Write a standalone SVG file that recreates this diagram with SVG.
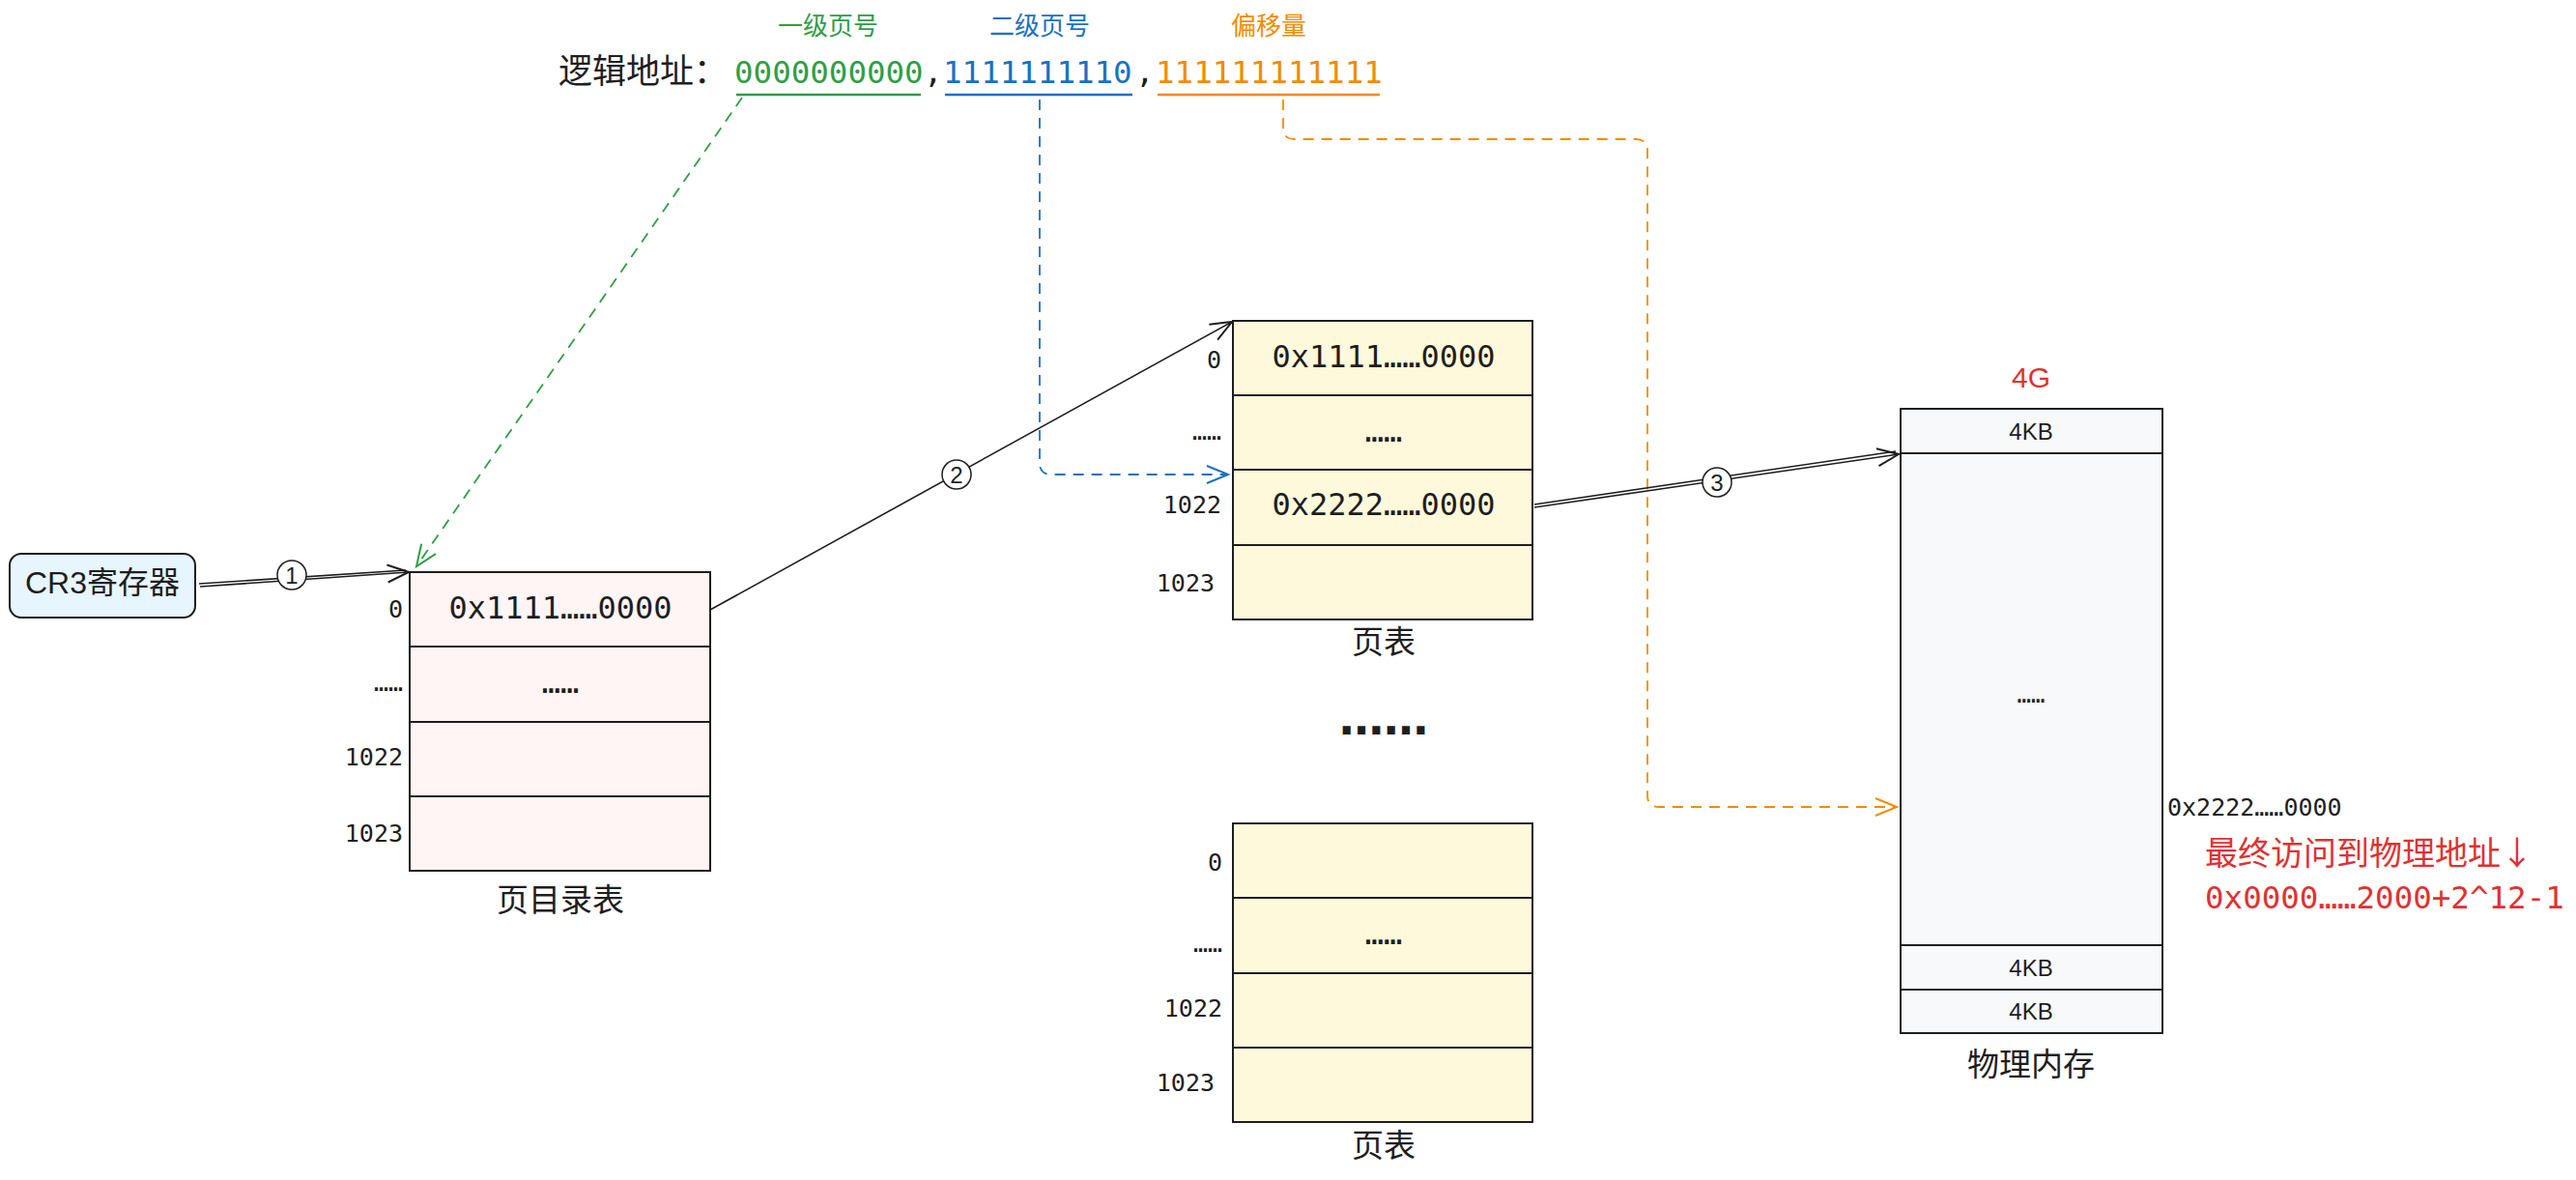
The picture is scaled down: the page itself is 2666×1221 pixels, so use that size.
<svg xmlns="http://www.w3.org/2000/svg" width="2666" height="1221" viewBox="0 0 2666 1221">
<style>
.cjk{font-family:"Noto Sans CJK SC","Noto Sans",sans-serif;}
.mono{font-family:"DejaVu Sans Mono","Liberation Mono","Noto Sans CJK SC",monospace;}
.sans{font-family:"Liberation Sans","Noto Sans CJK SC",sans-serif;}
.box{stroke:#1e1e1e;stroke-width:2;}
.row{stroke:#1e1e1e;stroke-width:2;}
.lbl{font-size:25px;fill:#1e1e1e;text-anchor:end;}
.cell{font-size:32px;fill:#1e1e1e;text-anchor:middle;}
.cap{font-size:33px;fill:#1e1e1e;text-anchor:middle;}
.conn{fill:none;stroke:#1e1e1e;stroke-width:1.6;}
.dash{fill:none;stroke-width:1.8;stroke-dasharray:11 8;}
.kb{font-size:24px;fill:#1e1e1e;text-anchor:middle;}
.num{font-size:24px;fill:#1e1e1e;text-anchor:middle;}
.badge{fill:#fff;stroke:#1e1e1e;stroke-width:1.5;}
</style>
<defs>
<marker id="ah-dark" markerUnits="userSpaceOnUse" markerWidth="40" markerHeight="40" viewBox="-30 -20 40 40" refX="0" refY="0" orient="auto" overflow="visible"><path d="M-22,-9 L0,0 L-22,9" fill="none" stroke="#1e1e1e" stroke-width="2"/></marker>
<marker id="ah-green" markerUnits="userSpaceOnUse" markerWidth="40" markerHeight="40" viewBox="-30 -20 40 40" refX="0" refY="0" orient="auto" overflow="visible"><path d="M-22,-9 L0,0 L-22,9" fill="none" stroke="#2f9e44" stroke-width="2"/></marker>
<marker id="ah-blue" markerUnits="userSpaceOnUse" markerWidth="40" markerHeight="40" viewBox="-30 -20 40 40" refX="0" refY="0" orient="auto" overflow="visible"><path d="M-22,-9 L0,0 L-22,9" fill="none" stroke="#1971c2" stroke-width="2"/></marker>
<marker id="ah-orange" markerUnits="userSpaceOnUse" markerWidth="40" markerHeight="40" viewBox="-30 -20 40 40" refX="0" refY="0" orient="auto" overflow="visible"><path d="M-22,-9 L0,0 L-22,9" fill="none" stroke="#f08c00" stroke-width="2"/></marker>
</defs>
<rect width="2666" height="1221" fill="#ffffff"/>

<g id="logical-address">
  <text class="cjk" x="857" y="36" font-size="26" fill="#2f9e44" text-anchor="middle">一级页号</text>
  <text class="cjk" x="1076" y="36" font-size="26" fill="#1971c2" text-anchor="middle">二级页号</text>
  <text class="cjk" x="1313" y="36" font-size="26" fill="#f08c00" text-anchor="middle">偏移量</text>
  <text class="cjk" x="578" y="86" font-size="35" fill="#1e1e1e">逻辑地址：</text>
  <text class="mono" x="760" y="86" font-size="32.5" fill="#2f9e44">0000000000</text>
  <text class="mono" x="956" y="86" font-size="32.5" fill="#1e1e1e">,</text>
  <text class="mono" x="976" y="86" font-size="32.5" fill="#1971c2">1111111110</text>
  <text class="mono" x="1175" y="86" font-size="32.5" fill="#1e1e1e">,</text>
  <text class="mono" x="1196" y="86" font-size="32.5" fill="#f08c00">111111111111</text>
  <line x1="762" y1="98" x2="953" y2="98" stroke="#2f9e44" stroke-width="2.5"/>
  <line x1="978" y1="98" x2="1172" y2="98" stroke="#1971c2" stroke-width="2.5"/>
  <line x1="1198" y1="98" x2="1428" y2="98" stroke="#f08c00" stroke-width="2.5"/>
</g>

<g id="cr3">
  <rect x="10" y="573" width="192" height="66" rx="12" fill="#e7f5ff" class="box"/>
  <text class="sans" x="106" y="614" font-size="32" fill="#1e1e1e" text-anchor="middle">CR3寄存器</text>
</g>

<g id="page-directory">
  <rect x="424" y="592" width="311" height="309" fill="#fff5f5" class="box"/>
  <line x1="424" y1="669" x2="735" y2="669" class="row"/>
  <line x1="424" y1="747" x2="735" y2="747" class="row"/>
  <line x1="424" y1="824" x2="735" y2="824" class="row"/>
  <text class="mono cell" x="580" y="640">0x1111……0000</text>
  <text class="mono cell" x="580" y="717">……</text>
  <text class="mono lbl" x="417" y="639">0</text>
  <text class="mono lbl" x="417" y="715">……</text>
  <text class="mono lbl" x="417" y="792">1022</text>
  <text class="mono lbl" x="417" y="871">1023</text>
  <text class="cjk cap" x="580" y="943">页目录表</text>
</g>

<g id="page-table-1">
  <rect x="1276" y="332" width="310" height="309" fill="#fff9db" class="box"/>
  <line x1="1276" y1="409" x2="1586" y2="409" class="row"/>
  <line x1="1276" y1="486" x2="1586" y2="486" class="row"/>
  <line x1="1276" y1="564" x2="1586" y2="564" class="row"/>
  <text class="mono cell" x="1432" y="380">0x1111……0000</text>
  <text class="mono cell" x="1432" y="457">……</text>
  <text class="mono cell" x="1432" y="533">0x2222……0000</text>
  <text class="mono lbl" x="1264" y="381">0</text>
  <text class="mono lbl" x="1264" y="455">……</text>
  <text class="mono lbl" x="1264" y="531">1022</text>
  <text class="mono lbl" x="1257" y="612">1023</text>
  <text class="cjk cap" x="1432" y="676">页表</text>
</g>

<g id="ellipsis">
  <text x="1432" y="760" font-family="DejaVu Sans, sans-serif" font-weight="bold" font-size="46" fill="#1e1e1e" text-anchor="middle">……</text>
</g>

<g id="page-table-2">
  <rect x="1276" y="852" width="310" height="309" fill="#fff9db" class="box"/>
  <line x1="1276" y1="929" x2="1586" y2="929" class="row"/>
  <line x1="1276" y1="1007" x2="1586" y2="1007" class="row"/>
  <line x1="1276" y1="1084" x2="1586" y2="1084" class="row"/>
  <text class="mono cell" x="1432" y="977">……</text>
  <text class="mono lbl" x="1265" y="901">0</text>
  <text class="mono lbl" x="1265" y="985">……</text>
  <text class="mono lbl" x="1265" y="1052">1022</text>
  <text class="mono lbl" x="1257" y="1129">1023</text>
  <text class="cjk cap" x="1432" y="1197">页表</text>
</g>

<g id="physical-memory">
  <text class="sans" x="2102" y="401" font-size="30" fill="#e03131" text-anchor="middle">4G</text>
  <rect x="1967" y="423" width="271" height="646" fill="#f8f9fa" class="box"/>
  <line x1="1967" y1="469" x2="2238" y2="469" class="row"/>
  <line x1="1967" y1="978" x2="2238" y2="978" class="row"/>
  <line x1="1967" y1="1024" x2="2238" y2="1024" class="row"/>
  <text class="sans kb" x="2102" y="455">4KB</text>
  <text class="mono kb" x="2102" y="727">……</text>
  <text class="sans kb" x="2102" y="1010">4KB</text>
  <text class="sans kb" x="2102" y="1055">4KB</text>
  <text class="cjk cap" x="2102" y="1113">物理内存</text>
</g>

<g id="final-address">
  <text class="mono" x="2243" y="844" font-size="25" fill="#1e1e1e">0x2222……0000</text>
  <text class="cjk" x="2282" y="895" font-size="34" fill="#e03131">最终访问到物理地址↓</text>
  <text class="mono" x="2282" y="940" font-size="32.5" fill="#e03131">0x0000……2000+2^12-1</text>
</g>

<g id="connectors">
  <path d="M768,101 L431,586" class="dash" stroke="#2f9e44" marker-end="url(#ah-green)"/>
  <path d="M1076,103 V479 Q1076,491 1088,491 H1271" class="dash" stroke="#1971c2" marker-end="url(#ah-blue)"/>
  <path d="M1328,103 V132 Q1328,144 1340,144 H1693 Q1705,144 1705,156 V823 Q1705,835 1717,835 H1963" class="dash" stroke="#f08c00" marker-end="url(#ah-orange)"/>

  <line x1="207" y1="607" x2="423" y2="592" class="conn" marker-end="url(#ah-dark)"/>
  <line x1="206" y1="604" x2="420" y2="590" class="conn"/>
  <line x1="735" y1="631" x2="1275" y2="333" class="conn" marker-end="url(#ah-dark)"/>
  <line x1="1588" y1="525" x2="1965" y2="470" class="conn" marker-end="url(#ah-dark)"/>
  <line x1="1588" y1="522" x2="1962" y2="467" class="conn"/>

  <circle cx="302" cy="595" r="15" class="badge"/>
  <text class="sans num" x="302" y="604">1</text>
  <circle cx="990" cy="491" r="15" class="badge"/>
  <text class="sans num" x="990" y="500">2</text>
  <circle cx="1777" cy="499" r="15" class="badge"/>
  <text class="sans num" x="1777" y="508">3</text>
</g>
</svg>
